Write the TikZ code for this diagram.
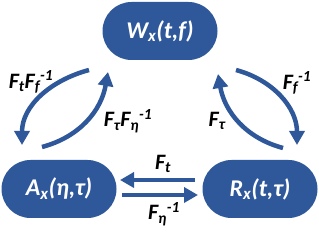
\documentclass[tikz,border=0pt]{standalone}
\usepackage{fontspec}
\setmainfont{Carlito}
\usetikzlibrary{arrows.meta}
\definecolor{nodeblue}{RGB}{47,88,155}
\newcommand{\sbs}[1]{\textsubscript{#1}}
\newcommand{\sps}[1]{\textsuperscript{#1}}
\begin{document}
\begin{tikzpicture}[x=1pt,y=1pt,
  box/.style={fill=nodeblue,rounded corners=29pt,minimum width=115pt,minimum height=58pt,
    text=white,font=\fontsize{24}{28}\selectfont\bfseries\itshape,inner sep=0pt},
  lbl/.style={text=black,font=\fontsize{22}{26}\selectfont\bfseries\itshape,inner sep=0pt},
  conn/.style={draw=nodeblue,line width=4.5pt,-{Triangle[length=14pt,width=15pt]}}]
\useasboundingbox (0,0) rectangle (319,238);
\node[box] (W) at (160,207) {W\sbs{x}(t,f)};
\node[box] (A) at (59,49) {A\sbs{x}(η,τ)};
\node[box] (R) at (260,49) {R\sbs{x}(t,τ)};
\coordinate (o1s) at (89,168);
\coordinate (o1e) at (22,93);
\coordinate (i1s) at (42,91);
\coordinate (i1e) at (108,166);
\coordinate (o2s) at (236,168);
\coordinate (o2e) at (297,93);
\coordinate (i2s) at (283,90);
\coordinate (i2e) at (218,164);
\coordinate (h1s) at (195,58);
\coordinate (h1e) at (120,58);
\coordinate (h2s) at (122,43);
\coordinate (h2e) at (198,43);
\draw[conn] (o1s) to[out=195,in=90] (o1e);
\draw[conn] (i1s) to[out=15,in=-100] (i1e);
\draw[conn] (o2s) to[out=-15,in=90] (o2e);
\draw[conn] (i2s) to[out=165,in=-80] (i2e);
\draw[conn] (h1s) -- (h1e);
\draw[conn] (h2s) -- (h2e);
\node[lbl] (l1) at (31,156) {F\sbs{t}F\sbs{f}\sps{-1}};
\node[lbl] (l2) at (128,117) {F\sbs{τ}F\sbs{η}\sps{-1}};
\node[lbl] (l3) at (297,155) {F\sbs{f}\sps{-1}};
\node[lbl] (l4) at (217,117) {F\sbs{τ}};
\node[lbl] (l5) at (163,74) {F\sbs{t}};
\node[lbl] (l6) at (164,24) {F\sbs{η}\sps{-1}};
\end{tikzpicture}
\end{document}
